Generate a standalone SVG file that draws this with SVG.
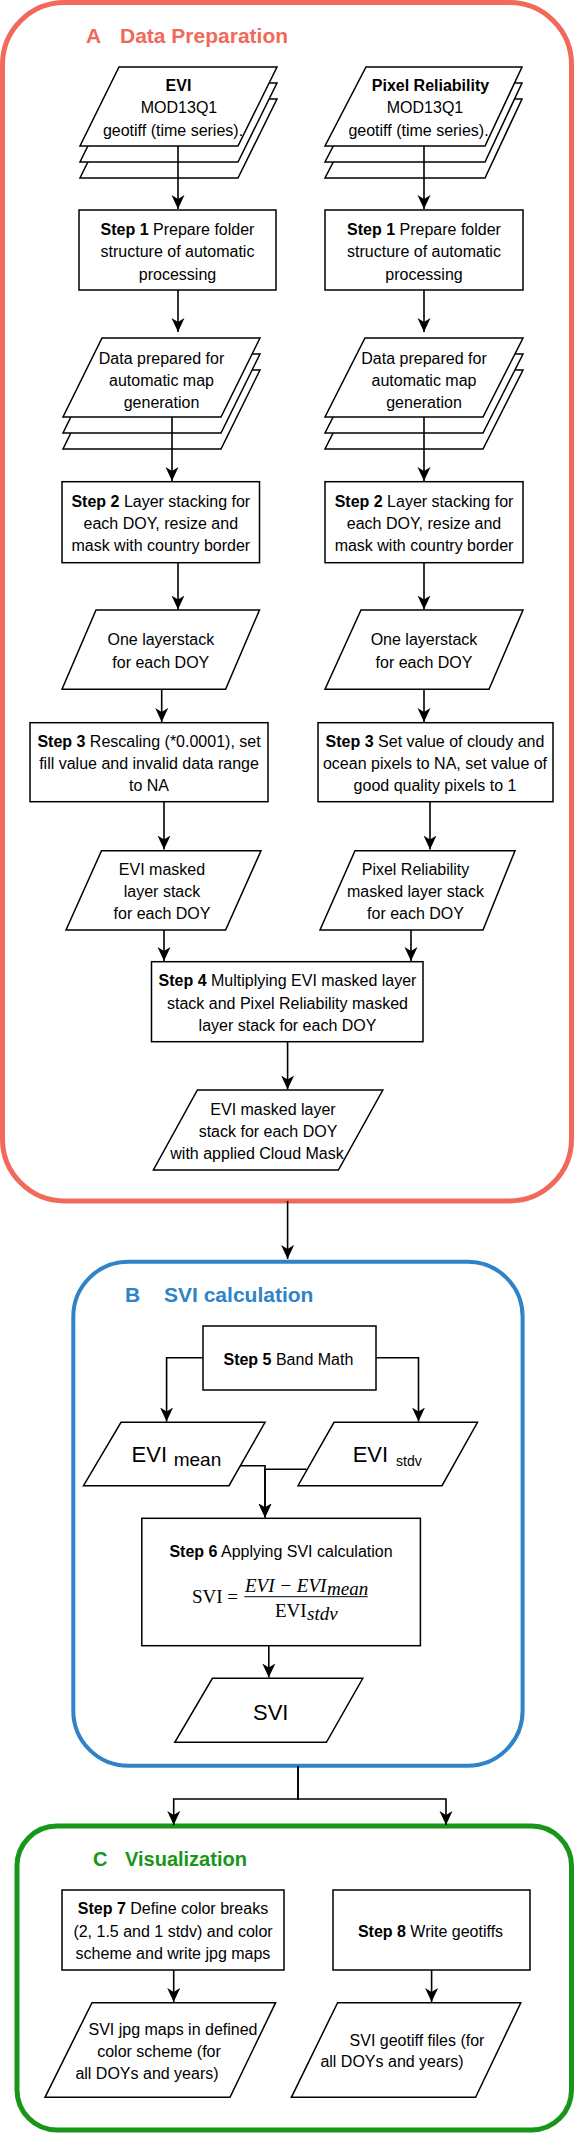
<svg xmlns="http://www.w3.org/2000/svg" width="575" height="2133" viewBox="0 0 575 2133">
<defs>
<style>
.n{fill:#fff;stroke:#000;stroke-width:1.5}
.t{font-family:"Liberation Sans",Arial,sans-serif;font-size:16px;fill:#000;text-anchor:middle}
.ts{font-family:"Liberation Sans",Arial,sans-serif;fill:#000}
.b{font-weight:bold}
.c{fill:none;stroke:#000;stroke-width:1.6;marker-end:url(#arr)}
.l{fill:none;stroke:#000;stroke-width:1.6}
.ti{font-family:"Liberation Sans",Arial,sans-serif;font-size:21px;font-weight:bold}
.m{font-family:"Liberation Serif","Times New Roman",serif;font-size:19px;fill:#000}
</style>
<marker id="arr" markerUnits="userSpaceOnUse" markerWidth="16" markerHeight="14" refX="14" refY="6.5" orient="auto"><path d="M0,0 L14,6.5 L0,13 L4,6.5 Z" fill="#000"/></marker>
</defs>
<rect width="575" height="2133" fill="#fff"/>

<g id="groupA">
<rect x="2.5" y="2.5" width="569" height="1198.5" rx="62" ry="62" fill="none" stroke="#F0695A" stroke-width="5"/>
<text class="ti" x="86" y="43" fill="#F0695A">A</text>
<text class="ti" x="120" y="43" fill="#F0695A">Data Preparation</text>
</g>

<g id="groupB">
<rect x="73.3" y="1261.7" width="449.3" height="504" rx="55" ry="55" fill="none" stroke="#2F83C8" stroke-width="4"/>
<text class="ti" x="125" y="1302" fill="#2F83C8">B</text>
<text class="ti" x="164" y="1302" fill="#2F83C8">SVI calculation</text>
</g>

<g id="groupC">
<rect x="17" y="1826" width="554.5" height="304" rx="40" ry="40" fill="none" stroke="#17961A" stroke-width="5"/>
<text class="ti" x="93" y="1866" fill="#17961A" style="font-size:20px">C</text>
<text class="ti" x="125" y="1866" fill="#17961A" style="font-size:20px">Visualization</text>
</g>

<g id="connectors">
<path class="c" d="M178,146 V209"/>
<path class="c" d="M424,146 V209"/>
<path class="c" d="M178,290 V332"/>
<path class="c" d="M424,290 V332"/>
<path class="c" d="M172,417 V481"/>
<path class="c" d="M424,417 V481"/>
<path class="c" d="M178,562.7 V609.5"/>
<path class="c" d="M424,562.7 V609.5"/>
<path class="c" d="M161.7,689.3 V722"/>
<path class="c" d="M424,689.3 V722"/>
<path class="c" d="M164,801.7 V849.5"/>
<path class="c" d="M430,801.7 V849.5"/>
<path class="c" d="M164,930 V961"/>
<path class="c" d="M411,930 V961"/>
<path class="c" d="M287.6,1041.7 V1089.5"/>
<path class="c" d="M287.6,1201 V1259"/>
<path class="c" d="M203,1357.7 H166.6 V1421.5"/>
<path class="c" d="M376,1357.7 H418.5 V1421.5"/>
<path class="c" d="M240.5,1465.7 H265 V1517.5"/>
<path class="c" d="M306.5,1469.3 H265 V1517.5"/>
<path class="c" d="M268.8,1645.7 V1677.5"/>
<path class="c" d="M298,1766 V1799 H173.7 V1825"/>
<path class="c" d="M298,1766 V1799 H446 V1825"/>
<path class="c" d="M173.7,1970 V2002"/>
<path class="c" d="M431.6,1970 V2002"/>
</g>

<g id="evi-input">
<polygon class="n" points="119,99 277,99 238,178 80,178"/>
<polygon class="n" points="119,83 277,83 238,162 80,162"/>
<polygon class="n" points="119,67 277,67 238,146 80,146"/>
<text class="t b" x="178.5" y="91">EVI</text>
<text class="t" x="179" y="113.3">MOD13Q1</text>
<text class="t" x="173" y="135.5">geotiff (time series).</text>
</g>
<path class="l" d="M178,146 V178"/>

<g id="pr-input">
<polygon class="n" points="366,99 522,99 485,178 325,178"/>
<polygon class="n" points="366,83 522,83 485,162 325,162"/>
<polygon class="n" points="366,67 522,67 485,146 325,146"/>
<text class="t b" x="430.5" y="91">Pixel Reliability</text>
<text class="t" x="425" y="113.3">MOD13Q1</text>
<text class="t" x="418.5" y="135.5">geotiff (time series).</text>
</g>
<path class="l" d="M424,146 V178"/>

<g id="step1-left">
<rect class="n" x="79" y="210" width="197" height="80"/>
<text class="t" x="177.5" y="235"><tspan class="b">Step 1</tspan> Prepare folder</text>
<text class="t" x="177.5" y="257.3">structure of automatic</text>
<text class="t" x="177.5" y="279.8">processing</text>
</g>
<g id="step1-right">
<rect class="n" x="325" y="210" width="198" height="80"/>
<text class="t" x="424" y="235"><tspan class="b">Step 1</tspan> Prepare folder</text>
<text class="t" x="424" y="257.3">structure of automatic</text>
<text class="t" x="424" y="279.8">processing</text>
</g>

<g id="prepared-left">
<polygon class="n" points="102,370 260,370 221,449 63,449"/>
<polygon class="n" points="102,354 260,354 221,433 63,433"/>
<polygon class="n" points="102,338 260,338 221,417 63,417"/>
<text class="t" x="161.5" y="364">Data prepared for</text>
<text class="t" x="161.5" y="386">automatic map</text>
<text class="t" x="161.5" y="408">generation</text>
</g>
<path class="l" d="M172,417 V449"/>
<g id="prepared-right">
<polygon class="n" points="365,370 523,370 483,449 325,449"/>
<polygon class="n" points="365,354 523,354 483,433 325,433"/>
<polygon class="n" points="365,338 523,338 483,417 325,417"/>
<text class="t" x="424" y="364">Data prepared for</text>
<text class="t" x="424" y="386">automatic map</text>
<text class="t" x="424" y="408">generation</text>
</g>
<path class="l" d="M424,417 V449"/>

<g id="step2-left">
<rect class="n" x="62" y="481.7" width="197.5" height="81"/>
<text class="t" x="160.8" y="506.7"><tspan class="b">Step 2</tspan> Layer stacking for</text>
<text class="t" x="160.8" y="528.6">each DOY, resize and</text>
<text class="t" x="160.8" y="550.7">mask with country border</text>
</g>
<g id="step2-right">
<rect class="n" x="325" y="481.7" width="198" height="81"/>
<text class="t" x="424" y="506.7"><tspan class="b">Step 2</tspan> Layer stacking for</text>
<text class="t" x="424" y="528.6">each DOY, resize and</text>
<text class="t" x="424" y="550.7">mask with country border</text>
</g>

<g id="layerstack-left">
<polygon class="n" points="96,610 259.5,610 225.6,689.3 62,689.3"/>
<text class="t" x="160.8" y="645">One layerstack</text>
<text class="t" x="160.8" y="668">for each DOY</text>
</g>
<g id="layerstack-right">
<polygon class="n" points="361,610 523,610 489,689.3 325,689.3"/>
<text class="t" x="424" y="645">One layerstack</text>
<text class="t" x="424" y="668">for each DOY</text>
</g>

<g id="step3-left">
<rect class="n" x="30" y="722.7" width="238" height="79"/>
<text class="t" x="149" y="746.7"><tspan class="b">Step 3</tspan> Rescaling (*0.0001), set</text>
<text class="t" x="149" y="769">fill value and invalid data range</text>
<text class="t" x="149" y="791">to NA</text>
</g>
<g id="step3-right">
<rect class="n" x="318" y="722.7" width="235" height="79"/>
<text class="t" x="435" y="746.7"><tspan class="b">Step 3</tspan> Set value of cloudy and</text>
<text class="t" x="435" y="769">ocean pixels to NA, set value of</text>
<text class="t" x="435" y="791">good quality pixels to 1</text>
</g>

<g id="evi-masked">
<polygon class="n" points="101.5,850.7 261,850.7 225.6,930 66,930"/>
<text class="t" x="162" y="875">EVI masked</text>
<text class="t" x="162" y="897">layer stack</text>
<text class="t" x="162" y="919.3">for each DOY</text>
</g>
<g id="pr-masked">
<polygon class="n" points="355,850.7 515,850.7 483,930 320,930"/>
<text class="t" x="415.5" y="875">Pixel Reliability</text>
<text class="t" x="415.5" y="897">masked layer stack</text>
<text class="t" x="415.5" y="919.3">for each DOY</text>
</g>

<g id="step4">
<rect class="n" x="151.5" y="961.7" width="271.5" height="80"/>
<text class="t" x="287.5" y="986"><tspan class="b">Step 4</tspan> Multiplying EVI masked layer</text>
<text class="t" x="287.5" y="1008.5">stack and Pixel Reliability masked</text>
<text class="t" x="287.5" y="1031">layer stack for each DOY</text>
</g>

<g id="cloudmask">
<polygon class="n" points="197.4,1090 382.8,1090 338.4,1170 153.4,1170"/>
<text class="t" x="273" y="1115">EVI masked layer</text>
<text class="t" x="268" y="1137.3">stack for each DOY</text>
<text class="t" x="257" y="1159.3">with applied Cloud Mask</text>
</g>

<g id="step5">
<rect class="n" x="203" y="1326" width="173" height="64"/>
<text class="t" x="288.4" y="1365"><tspan class="b">Step 5</tspan> Band Math</text>
</g>

<g id="evi-mean">
<polygon class="n" points="121,1422.3 265,1422.3 229,1485.7 83.5,1485.7"/>
<text class="ts" x="131.6" y="1461.7" font-size="22">EVI</text>
<text class="ts" x="173.7" y="1465.5" font-size="19">mean</text>
</g>
<g id="evi-stdv">
<polygon class="n" points="334,1422.3 477.5,1422.3 442,1485.7 298,1485.7"/>
<text class="ts" x="352.7" y="1461.7" font-size="22">EVI</text>
<text class="ts" x="396" y="1466" font-size="14">stdv</text>
</g>

<g id="step6">
<rect class="n" x="141.8" y="1518.3" width="278.6" height="127.4"/>
<text class="t" x="281" y="1556.7"><tspan class="b">Step 6</tspan> Applying SVI calculation</text>
<text class="m" x="192" y="1603.3">SVI =</text>
<text class="m" x="245" y="1591.7" font-style="italic">EVI − EVI</text>
<text class="m" x="327" y="1594.5" font-style="italic" font-size="15">mean</text>
<line x1="244.4" y1="1596.7" x2="367.7" y2="1596.7" stroke="#000" stroke-width="1"/>
<text class="m" x="275" y="1616.7">EVI</text>
<text class="m" x="307" y="1620" font-style="italic" font-size="15">stdv</text>
</g>

<g id="svi">
<polygon class="n" points="212.4,1678.3 362.8,1678.3 326.4,1742.3 174.8,1742.3"/>
<text class="ts" x="270.7" y="1720" font-size="22" text-anchor="middle">SVI</text>
</g>

<g id="step7">
<rect class="n" x="62" y="1890" width="222" height="80"/>
<text class="t" x="173" y="1914.3"><tspan class="b">Step 7</tspan> Define color breaks</text>
<text class="t" x="173" y="1936.7">(2, 1.5 and 1 stdv) and color</text>
<text class="t" x="173" y="1959">scheme and write jpg maps</text>
</g>
<g id="step8">
<rect class="n" x="333" y="1890" width="197" height="80"/>
<text class="t" x="430.5" y="1936.7"><tspan class="b">Step 8</tspan> Write geotiffs</text>
</g>

<g id="svi-jpg">
<polygon class="n" points="92,2002.7 275.6,2002.7 230,2097.3 45,2097.3"/>
<text class="t" x="173" y="2035">SVI jpg maps in defined</text>
<text class="t" x="159" y="2056.7">color scheme (for</text>
<text class="t" x="147" y="2079">all DOYs and years)</text>
</g>
<g id="svi-geotiff">
<polygon class="n" points="337.6,2002.7 520.8,2002.7 475.6,2097.3 291.4,2097.3"/>
<text class="t" x="417" y="2045.7">SVI geotiff files (for</text>
<text class="t" x="392" y="2067.3">all DOYs and years)</text>
</g>
</svg>
